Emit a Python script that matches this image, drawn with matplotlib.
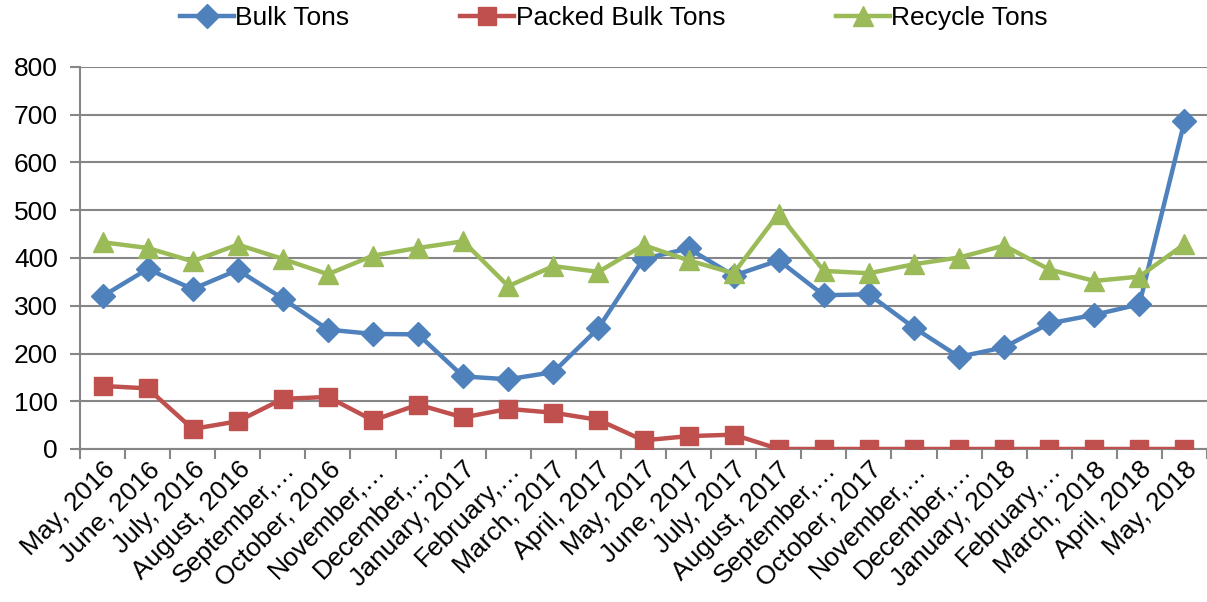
import matplotlib
matplotlib.use("Agg")
import matplotlib.pyplot as plt

plt.rcParams['font.family'] = ['Liberation Sans', 'DejaVu Sans']

months = ["May, 2016", "June, 2016", "July, 2016", "August, 2016", "September,…",
          "October, 2016", "November,…", "December,…", "January, 2017", "February,…",
          "March, 2017", "April, 2017", "May, 2017", "June, 2017", "July, 2017",
          "August, 2017", "September,…", "October, 2017", "November,…", "December,…",
          "January, 2018", "February,…", "March, 2018", "April, 2018", "May, 2018"]
bulk = [320, 377, 335, 375, 315, 250, 241, 240, 152, 146, 161, 253, 398, 420, 363,
        395, 322, 324, 254, 193, 213, 263, 281, 303, 686]
packed = [132, 127, 42, 58, 105, 109, 60, 93, 66, 84, 76, 61, 18, 27, 30,
          0, 0, 0, 0, 0, 0, 0, 0, 0, 0]
recycle = [433, 421, 393, 428, 398, 366, 405, 421, 435, 341, 383, 371, 427, 395, 368,
           493, 373, 368, 387, 401, 426, 376, 352, 361, 429]
yticks = [0, 100, 200, 300, 400, 500, 600, 700, 800]

W, H = 1207, 602
fig = plt.figure(figsize=(W / 100, H / 100), dpi=100)
ax = fig.add_axes([80 / W, 1 - 449 / H, (W - 80) / W, (449 - 67) / H])

x = list(range(len(months)))
grey = "#868686"
fs = 19

ax.plot(x, bulk, color="#4F81BD", lw=3.2, marker="D", ms=12, label="Bulk Tons", zorder=3)
ax.plot(x, packed, color="#C0504D", lw=3.2, marker="s", ms=12.5, label="Packed Bulk Tons", zorder=3)
ax.plot(x, recycle, color="#9BBB59", lw=3.2, marker="^", ms=15, label="Recycle Tons", zorder=3)

ax.set_xlim(-0.5, len(months) - 0.5)
ax.set_ylim(0, 800)
ax.set_yticks(yticks)
ax.set_yticklabels([str(v) for v in yticks], fontsize=fs)
ax.yaxis.grid(True, color=grey, lw=1.5)
ax.set_axisbelow(True)

ax.set_xticks([i - 0.5 for i in range(len(months) + 1)], minor=False)
ax.set_xticklabels([])
ax.set_xticks(x, minor=True)
ax.set_xticklabels(months, minor=True, rotation=45, ha="right", va="top",
                   rotation_mode="anchor", fontsize=fs)
ax.tick_params(axis="x", which="minor", length=0, pad=6)
ax.tick_params(axis="x", which="major", length=7, color=grey, width=1.5)
ax.tick_params(axis="y", length=7, color=grey, width=1.5, pad=9)

for s in ["top", "right"]:
    ax.spines[s].set_visible(False)
for s in ["left", "bottom"]:
    ax.spines[s].set_color(grey)
    ax.spines[s].set_linewidth(1.5)

fig.legend(loc="center", bbox_to_anchor=(614 / W, 1 - 18 / H), ncol=3, frameon=False,
           fontsize=fs, handlelength=2.05, handletextpad=0.05, columnspacing=4.2)

fig.savefig("out.png", dpi=100)
